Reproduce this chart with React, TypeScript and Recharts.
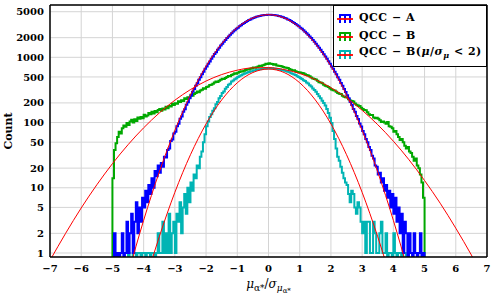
import { LineChart, Line, XAxis, YAxis, CartesianGrid, Legend, ReferenceLine } from 'recharts';

// histogram bins: left edges start at BIN_START, BIN_WIDTH wide
const BIN_START = -5;
const BIN_WIDTH = 0.05;
const ZERO_FLOOR = 0.5; // empty bins go below the log axis (clipped)
const Y_MIN = 0.868;
const Y_MAX = 6340;

const countsA = [
  0, 2, 0, 1, 0, 1, 2, 0, 1, 3,
  1, 2, 4, 1, 3, 6, 2, 5, 3, 7,
  5, 9, 6, 11, 8, 14, 10, 18, 15, 22,
  17, 24, 21, 30, 29, 38, 40, 52, 55, 68,
  72, 88, 96, 114, 124, 146, 160, 188, 205, 236,
  260, 296, 326, 368, 402, 452, 495, 552, 600, 668,
  724, 800, 866, 952, 1026, 1122, 1200, 1310, 1398, 1514,
  1610, 1736, 1840, 1974, 2080, 2222, 2330, 2478, 2590, 2740,
  2850, 2996, 3100, 3250, 3350, 3494, 3590, 3724, 3810, 3932,
  4005, 4115, 4170, 4266, 4310, 4384, 4410, 4464, 4470, 4505,
  4490, 4500, 4470, 4460, 4410, 4380, 4310, 4262, 4175, 4110,
  4008, 3928, 3812, 3720, 3592, 3490, 3356, 3246, 3106, 2992,
  2852, 2734, 2592, 2474, 2334, 2218, 2084, 1970, 1842, 1732,
  1612, 1510, 1400, 1306, 1204, 1118, 1028, 950, 868, 798,
  726, 666, 602, 550, 496, 451, 404, 366, 326, 295,
  262, 235, 206, 186, 162, 146, 126, 113, 97, 87,
  74, 66, 56, 50, 42, 38, 31, 28, 22, 21,
  16, 17, 12, 14, 9, 11, 7, 9, 5, 8,
  4, 7, 3, 5, 2, 4, 1, 3, 2, 0,
  2, 1, 0, 2, 1, 0, 1, 2, 0, 1,
];

const countsB = [
  14, 38, 48, 60, 72, 68, 82, 90, 86, 98,
  92, 104, 110, 100, 112, 106, 120, 114, 122, 116,
  132, 124, 128, 140, 134, 146, 138, 150, 144, 156,
  162, 152, 164, 158, 174, 166, 180, 176, 194, 186,
  198, 194, 212, 206, 220, 214, 236, 230, 244, 240,
  266, 258, 274, 284, 298, 292, 310, 318, 336, 330,
  350, 358, 376, 380, 392, 410, 424, 418, 436, 452,
  470, 464, 482, 500, 518, 512, 534, 550, 568, 560,
  580, 598, 614, 608, 624, 640, 658, 650, 666, 680,
  696, 690, 706, 724, 744, 736, 756, 772, 798, 790,
  810, 796, 788, 772, 780, 752, 744, 736, 730, 712,
  696, 690, 684, 662, 644, 636, 632, 610, 598, 590,
  586, 576, 568, 550, 538, 524, 514, 492, 472, 464,
  458, 436, 416, 410, 402, 380, 368, 360, 352, 334,
  320, 314, 310, 296, 284, 276, 274, 258, 248, 244,
  242, 228, 218, 214, 210, 196, 188, 182, 180, 168,
  162, 156, 154, 144, 134, 130, 130, 120, 116, 118,
  114, 108, 102, 104, 100, 96, 102, 88, 86, 82,
  72, 74, 66, 60, 54, 56, 50, 44, 40, 42,
  36, 34, 30, 26, 28, 22, 20, 16, 12, 7,
];

const countsBcut = [
  0, 0, 0, 0, 0, 0, 0, 0, 0, 0,
  1, 0, 0, 1, 1, 0, 1, 1, 0, 1,
  1, 0, 1, 1, 0, 1, 1, 0, 1, 2,
  1, 1, 3, 1, 2, 1, 4, 1, 2, 3,
  1, 4, 3, 6, 2, 5, 8, 4, 10, 6,
  12, 9, 16, 14, 22, 20, 30, 36, 50, 66,
  88, 104, 122, 134, 152, 166, 190, 206, 236, 256,
  284, 300, 330, 350, 380, 394, 424, 440, 462, 476,
  500, 514, 532, 544, 562, 572, 586, 596, 608, 614,
  626, 632, 646, 648, 656, 662, 668, 672, 680, 676,
  686, 678, 682, 670, 666, 664, 656, 650, 640, 632,
  622, 612, 600, 590, 572, 562, 546, 534, 512, 500,
  480, 466, 446, 432, 412, 396, 374, 356, 332, 316,
  296, 274, 254, 236, 216, 200, 182, 162, 140, 118,
  98, 74, 56, 40, 30, 26, 21, 17, 14, 12,
  11, 8, 6, 9, 8, 5, 4, 6, 5, 3,
  2, 3, 1, 3, 3, 1, 1, 3, 2, 1,
  1, 2, 3, 1, 1, 2, 0, 1, 1, 0,
  2, 1, 0, 1, 1, 0, 1, 1, 0, 0,
  0, 0, 0, 0, 0, 0, 0, 0, 0, 0,
];

// gaussian fits, read at half-unit steps
const fitX = [-7, -6.5, -6, -5.5, -5, -4.5, -4, -3.5, -3, -2.5, -2, -1.5, -1, -0.5, 0,
  0.5, 1, 1.5, 2, 2.5, 3, 3.5, 4, 4.5, 5, 5.5, 6, 6.5, 7];
const fitA = [1e-6, 2.1e-5, 3.6e-4, 0.0049, 0.053, 0.46, 3.17, 17.4, 75.9, 264, 733, 1621, 2859, 4018, 4500,
  4018, 2859, 1621, 733, 264, 75.9, 17.4, 3.17, 0.46, 0.053, 0.0049, 3.6e-4, 2.1e-5, 1e-6];
const fitB = [0.77, 2.0, 4.9, 11.1, 23.4, 45.7, 83, 140, 220, 320, 433, 544, 635, 690, 695,
  650, 565, 456, 342, 239, 154, 92.7, 51.8, 26.9, 12.9, 5.8, 2.4, 0.93, 0.33];
const fitBcut = [3.4e-8, 9e-7, 1.8e-5, 2.9e-4, 0.0037, 0.037, 0.29, 1.77, 8.5, 32.1, 95.4, 222, 407, 585, 660,
  585, 407, 222, 95.4, 32.1, 8.5, 1.77, 0.29, 0.037, 0.0037, 2.9e-4, 1.8e-5, 9e-7, 3.4e-8];

const X_TICKS = [-7, -6, -5, -4, -3, -2, -1, 0, 1, 2, 3, 4, 5, 6, 7];
const Y_TICKS = [1, 2, 5, 10, 20, 50, 100, 200, 500, 1000, 2000, 5000];
const MINOR_X = Array.from({ length: 141 }, (_, i) => Math.round((-7 + i * 0.1) * 10) / 10);
const MINOR_Y = [1, 10, 100, 1000]
  .flatMap(d => [1, 2, 3, 4, 5, 6, 7, 8, 9].map(m => m * d))
  .filter(v => v <= 6000);

const BLUE = '#0000ff';
const GREEN = '#00a800';
const CYAN = '#00b4b4';
const RED = '#ff0000';
const FONT = "'DejaVu Serif', serif";

function toSteps(counts: number[]) {
  const pts = [{ x: +(BIN_START - BIN_WIDTH).toFixed(2), y: ZERO_FLOOR }];
  counts.forEach((c, i) => {
    pts.push({ x: +(BIN_START + i * BIN_WIDTH).toFixed(2), y: c > 0 ? c : ZERO_FLOOR });
  });
  pts.push({ x: +(BIN_START + counts.length * BIN_WIDTH).toFixed(2), y: ZERO_FLOOR });
  return pts;
}

function toCurve(ys: number[]) {
  return fitX.map((x, i) => ({ x, y: ys[i] }));
}

const fmtX = (v: number) => (v < 0 ? `\u2212${Math.abs(v)}` : `${v}`);

function LegendIcon({ color }: { color: string }) {
  return (
    <svg width={16} height={12} style={{ display: 'block' }}>
      <path d="M3 11 V3 H13 V11 M8 3 V11" fill="none" stroke={color} strokeWidth={2} />
      <line x1={0} y1={7} x2={16} y2={7} stroke={RED} strokeWidth={1.8} />
    </svg>
  );
}

const legendRows = [
  { color: BLUE, text: <>QCC − A</> },
  { color: GREEN, text: <>QCC − B</> },
  {
    color: CYAN,
    text: (
      <>QCC − B(<i>μ</i>/<i>σ</i><sub style={{ fontSize: 8 }}><i>μ</i></sub> &lt; 2)</>
    ),
  },
];

function LegendBox() {
  return (
    <div
      style={{
        border: '1px solid #000',
        background: '#fff',
        boxSizing: 'border-box',
        width: 154,
        height: 62,
        padding: '3px 0 0 3px',
        fontFamily: FONT,
        fontWeight: 'bold',
        fontSize: 11,
        letterSpacing: 0.5,
        color: '#000',
      }}
    >
      {legendRows.map((r, i) => (
        <div key={i} style={{ display: 'flex', alignItems: 'center', height: 18, gap: 6 }}>
          <LegendIcon color={r.color} />
          <span style={{ whiteSpace: 'nowrap', lineHeight: '12px' }}>{r.text}</span>
        </div>
      ))}
    </div>
  );
}

function XTitle(props: any) {
  const vb = props.viewBox || { x: 50, y: 257, width: 437 };
  return (
    <text x={vb.x + vb.width / 2} y={vb.y + 31} textAnchor="middle" fontFamily={FONT} fontSize={12} fill="#000">
      <tspan fontStyle="italic">μ</tspan>
      <tspan fontSize={9} dy={3}>α*</tspan>
      <tspan dy={-3}>/</tspan>
      <tspan fontStyle="italic">σ</tspan>
      <tspan fontSize={9} dy={3} fontStyle="italic">μ</tspan>
      <tspan fontSize={7} dy={2}>α*</tspan>
    </text>
  );
}

function YTitle() {
  return (
    <text x={12} y={131} transform="rotate(-90 12 131)" textAnchor="middle" fontFamily={FONT} fontWeight="bold" fontSize={11} fill="#000">
      Count
    </text>
  );
}

const tickStyle = { fill: '#000', fontSize: 10, fontFamily: FONT, fontWeight: 'bold' };

export default function App() {
  const stepA = toSteps(countsA);
  const stepB = toSteps(countsB);
  const stepC = toSteps(countsBcut);

  return (
    <div style={{ position: 'absolute', left: 0, top: 0, background: '#fff' }}>
      <LineChart width={498} height={295} margin={{ top: 5, right: 11, left: 0, bottom: 0 }}>
        <CartesianGrid stroke="#d4d4d4" strokeWidth={1} />
        <XAxis
          dataKey="x"
          type="number"
          domain={[-7, 7]}
          ticks={X_TICKS}
          interval={0}
          allowDataOverflow
          tickFormatter={fmtX}
          tick={tickStyle}
          tickLine={false}
          tickSize={0}
          tickMargin={8}
          axisLine={{ stroke: '#000', strokeWidth: 1.5 }}
          height={38}
          label={{ content: (p: any) => <XTitle {...p} /> }}
        />
        <XAxis
          xAxisId="minorX"
          dataKey="x"
          type="number"
          domain={[-7, 7]}
          ticks={MINOR_X}
          interval={0}
          allowDataOverflow
          mirror
          height={1}
          tick={false}
          axisLine={false}
          tickLine={{ stroke: '#000', strokeWidth: 1 }}
          tickSize={3}
        />
        <YAxis
          scale="log"
          type="number"
          domain={[Y_MIN, Y_MAX]}
          ticks={Y_TICKS}
          interval={0}
          allowDataOverflow
          tick={tickStyle}
          tickLine={false}
          tickSize={0}
          tickMargin={6}
          axisLine={{ stroke: '#000', strokeWidth: 1.5 }}
          width={50}
          label={{ content: () => <YTitle /> }}
        />
        <YAxis
          yAxisId="minorY"
          scale="log"
          type="number"
          domain={[Y_MIN, Y_MAX]}
          ticks={MINOR_Y}
          interval={0}
          allowDataOverflow
          mirror
          width={1}
          tick={false}
          axisLine={false}
          tickLine={{ stroke: '#000', strokeWidth: 1 }}
          tickSize={3}
        />
        <ReferenceLine y={Y_MAX} stroke="#000" strokeWidth={1.5} ifOverflow="visible" />
        <ReferenceLine x={7} stroke="#000" strokeWidth={1.5} ifOverflow="visible" />

        <Line data={stepC} dataKey="y" type="stepAfter" stroke={CYAN} strokeWidth={2} dot={false} isAnimationActive={false} />
        <Line data={stepB} dataKey="y" type="stepAfter" stroke={GREEN} strokeWidth={2} dot={false} isAnimationActive={false} />
        <Line data={stepA} dataKey="y" type="stepAfter" stroke={BLUE} strokeWidth={2} dot={false} isAnimationActive={false} />
        <Line data={toCurve(fitBcut)} dataKey="y" type="monotone" stroke={RED} strokeWidth={1} dot={false} isAnimationActive={false} />
        <Line data={toCurve(fitB)} dataKey="y" type="monotone" stroke={RED} strokeWidth={1} dot={false} isAnimationActive={false} />
        <Line data={toCurve(fitA)} dataKey="y" type="monotone" stroke={RED} strokeWidth={1} dot={false} isAnimationActive={false} />

        <Legend
          layout="vertical"
          verticalAlign="middle"
          align="center"
          content={() => <LegendBox />}
          wrapperStyle={{ left: 333, top: 5, width: 154, height: 62, right: 'auto', bottom: 'auto' }}
        />
      </LineChart>
    </div>
  );
}
